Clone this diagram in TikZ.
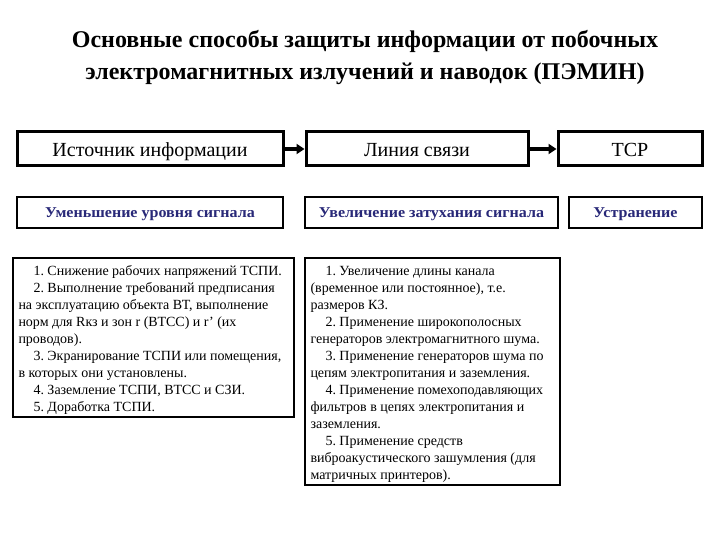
\documentclass[tikz,border=0pt]{standalone}
\usepackage{fontspec}
\setmainfont{Liberation Serif}
\usetikzlibrary{positioning,arrows.meta}
\definecolor{navytext}{RGB}{40,40,120}
\tikzset{
  head/.style    = {rectangle, draw=black, line width=3pt, fill=white,
                    inner sep=0pt, text height=19pt, text depth=4pt,
                    font=\fontsize{20}{24}\selectfont},
  way/.style     = {rectangle, draw=black, line width=2.6pt, fill=white,
                    inner sep=0pt, text=navytext, text height=14pt, text depth=3pt,
                    font=\fontsize{15}{18}\bfseries\addfontfeature{FakeStretch=1.07}\selectfont},
  measures/.style= {rectangle, draw=black, line width=1.3pt, fill=white,
                    inner sep=0pt, align=left,
                    font=\fontsize{14}{17}\selectfont},
  flow/.style    = {-{Triangle[length=8pt,width=10pt]}, line width=4pt, black},
}
\newcommand{\ind}{\hspace*{15pt}}
\frenchspacing

\begin{document}
\begin{tikzpicture}[x=1pt, y=-1pt]
  \useasboundingbox (0,0) rectangle (720,540);

  \node[font=\fontsize{24}{32}\bfseries\selectfont, align=center] (title) at (365,58)
       {Основные способы защиты информации от побочных\\
        электромагнитных излучений и наводок (ПЭМИН)};

  % first row
  \node[head, minimum width=266pt, minimum height=34pt] (src)  at (150,149) {Источник информации};
  \node[head, minimum width=222pt, minimum height=34pt] (line) at (417,149) {Линия связи};
  \node[head, minimum width=144pt, minimum height=34pt] (tsr)  at (630,149) {ТСР};

  \draw[flow] (src) -- (line);
  \draw[flow] (line) -- (tsr);

  % second row
  \node[way, minimum width=266pt, minimum height=31pt] (lower) at (150,212.5) {Уменьшение уровня сигнала};
  \node[way, minimum width=253pt, minimum height=31pt] (damp)  at (431.5,212.5) {Увеличение затухания сигнала};
  \node[way, minimum width=133pt, minimum height=31pt] (elim)  at (635.5,212.5) {Устранение};

  % measures
  \node[measures, minimum width=281pt, minimum height=159pt] (srcm) at (153.5,337.5)
       {\parbox[c][159pt][c]{270pt}{\vspace*{4pt}%
        \ind 1. Снижение рабочих напряжений ТСПИ.\\
        \ind 2. Выполнение требований предписания\\
        на эксплуатацию объекта ВТ, выполнение\\
        норм для Rкз и зон r (ВТСС) и r' (их\\
        проводов).\\
        \ind 3. Экранирование ТСПИ или помещения,\\
        в которых они установлены.\\
        \ind 4. Заземление ТСПИ, ВТСС и СЗИ.\\
        \ind 5. Доработка ТСПИ.}};

  \node[measures, minimum width=255pt, minimum height=227pt] (linem) at (432.5,371.5)
       {\parbox[c][227pt][c]{244pt}{\vspace*{6pt}%
        \ind 1. Увеличение длины канала\\
        (временное или постоянное), т.е.\\
        размеров КЗ.\\
        \ind 2. Применение широкополосных\\
        генераторов электромагнитного шума.\\
        \ind 3. Применение генераторов шума по\\
        цепям электропитания и заземления.\\
        \ind 4. Применение помехоподавляющих\\
        фильтров в цепях электропитания и\\
        заземления.\\
        \ind 5. Применение средств\\
        виброакустического зашумления  (для\\
        матричных принтеров).}};
\end{tikzpicture}
\end{document}
